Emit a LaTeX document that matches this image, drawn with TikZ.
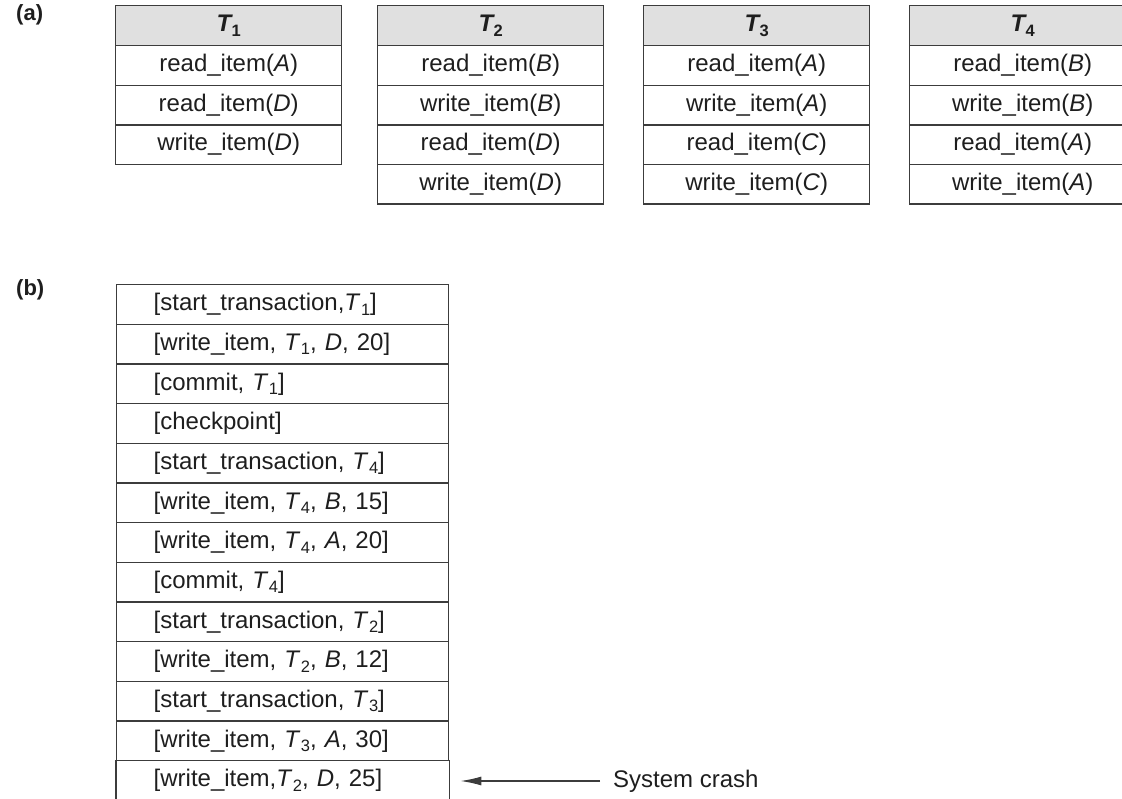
\documentclass[tikz,border=0pt]{standalone}
\usepackage{fontspec}
\setmainfont{Liberation Sans}
\usetikzlibrary{arrows.meta,calc}
\definecolor{linec}{RGB}{60,60,60}
\definecolor{headc}{RGB}{224,224,224}
\definecolor{txtc}{RGB}{30,30,30}
\newcommand{\Ti}[1]{\textit{T}\kern0.5pt\raisebox{-4.5pt}{\fontsize{16.5}{18}\selectfont\upshape #1}}
\newcommand{\Vi}[1]{\textit{#1}}
\begin{document}
\begin{tikzpicture}[x=1pt,y=-1pt,
  every node/.style={text=txtc},
  txt/.style={font=\fontsize{24}{28}\selectfont},
  cell/.style={txt, draw=linec, line width=1.4pt, minimum width=226pt, minimum height=39.6pt, inner sep=0pt, anchor=north west},
  head/.style={cell, fill=headc, minimum height=40pt, font=\fontsize{24}{28}\selectfont\bfseries\itshape},
  logcell/.style={txt, draw=linec, line width=1.4pt, minimum width=332pt, minimum height=39.67pt, text width=258pt, inner xsep=37pt, inner ysep=0pt, align=left, anchor=north west},
  lbl/.style={font=\fontsize{22}{26}\selectfont\bfseries, anchor=west, inner sep=0pt},
  side/.style={draw=linec, line width=1.4pt},
  arr/.style={draw=linec, line width=1.4pt, -{Latex[length=21pt,width=9pt]}}
]
\useasboundingbox (0,0) rectangle (1122,799);

% (a)
\node[lbl] (la) at (16,15) {(a)};

% T1
\node[head] (h1) at (115,5) {\Ti{1}};
\node[cell] (a11) at (115,45) {read\_item(\Vi{A})};
\node[cell] (a12) at (115,84.6) {read\_item(\Vi{D})};
\node[cell] (a13) at (115,124.2) {write\_item(\Vi{D})};

% T2
\node[head] (h2) at (377,5) {\Ti{2}};
\node[cell] (a21) at (377,45) {read\_item(\Vi{B})};
\node[cell] (a22) at (377,84.6) {write\_item(\Vi{B})};
\node[cell] (a23) at (377,124.2) {read\_item(\Vi{D})};
\node[cell] (a24) at (377,163.8) {write\_item(\Vi{D})};

% T3
\node[head] (h3) at (643,5) {\Ti{3}};
\node[cell] (a31) at (643,45) {read\_item(\Vi{A})};
\node[cell] (a32) at (643,84.6) {write\_item(\Vi{A})};
\node[cell] (a33) at (643,124.2) {read\_item(\Vi{C})};
\node[cell] (a34) at (643,163.8) {write\_item(\Vi{C})};

% T4
\node[head] (h4) at (909,5) {\Ti{4}};
\node[cell] (a41) at (909,45) {read\_item(\Vi{B})};
\node[cell] (a42) at (909,84.6) {write\_item(\Vi{B})};
\node[cell] (a43) at (909,124.2) {read\_item(\Vi{A})};
\node[cell] (a44) at (909,163.8) {write\_item(\Vi{A})};

% (b)
\node[lbl] (lb) at (16,290) {(b)};

\foreach \t [count=\i] in {
  {[start\_transaction,\Ti{1}]},
  {[write\_item, \Ti{1}, \Vi{D}, 20]},
  {[commit, \Ti{1}]},
  {[checkpoint]},
  {[start\_transaction, \Ti{4}]},
  {[write\_item, \Ti{4}, \Vi{B}, 15]},
  {[write\_item, \Ti{4}, \Vi{A}, 20]},
  {[commit, \Ti{4}]},
  {[start\_transaction, \Ti{2}]},
  {[write\_item, \Ti{2}, \Vi{B}, 12]},
  {[start\_transaction, \Ti{3}]},
  {[write\_item, \Ti{3}, \Vi{A}, 30]}}{
  \node[logcell] (l\i) at (116,{284+(\i-1)*39.67}) {\t};
}
\node[logcell, draw=none] (l13) at (116,{284+12*39.67}) {[write\_item,\Ti{2}, \Vi{D}, 25]};
\draw[side] (l13.north west) -- ([yshift=-12pt]l13.south west);
\draw[side] (l13.north east) -- ([yshift=-12pt]l13.south east);

% System crash
\node[txt, anchor=west, inner sep=0pt] (crash) at (613,781) {System crash};
\draw[arr] ([xshift=-13pt]crash.west) -- ($(crash.west -| l13.east)+(11,0)$);
\end{tikzpicture}
\end{document}
